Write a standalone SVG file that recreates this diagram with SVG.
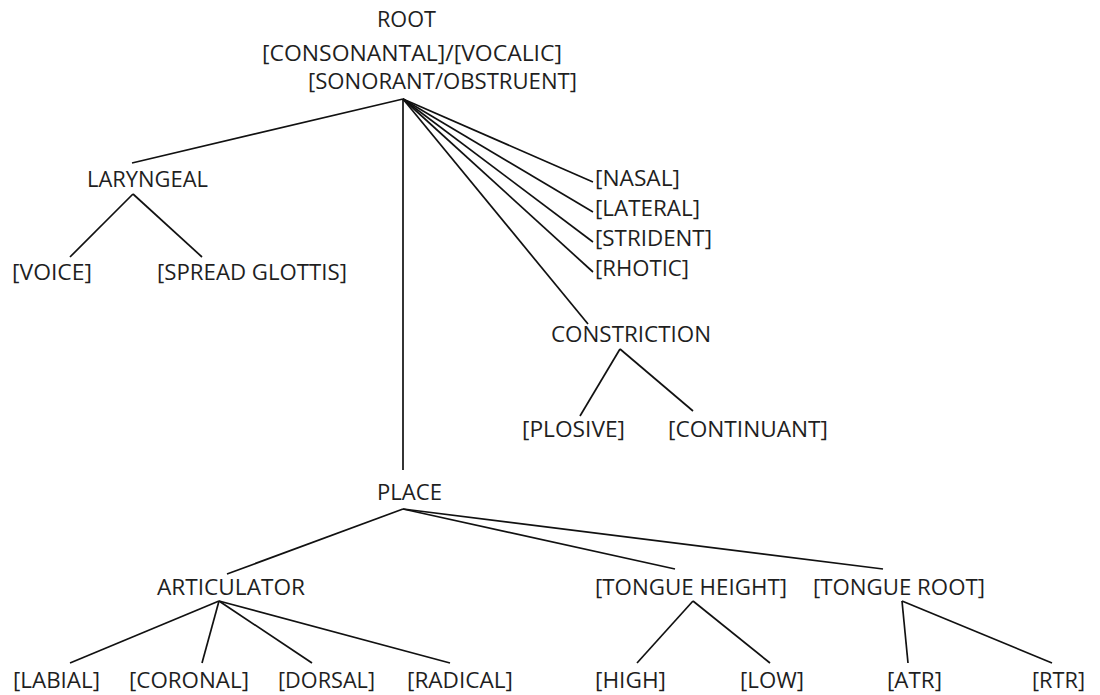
<svg xmlns="http://www.w3.org/2000/svg" width="1100" height="695" viewBox="0 0 1100 695">
<style>
text{font-family:"Open Sans","Liberation Sans",sans-serif;font-size:21px;fill:#1f1f1f;}
.e line{stroke:#111111;stroke-width:1.7;fill:none;}
</style>
<rect width="1100" height="695" fill="#ffffff"/>
<g class="e" id="connectors">
<line x1="403" y1="99" x2="132" y2="163"/>
<line x1="403" y1="99" x2="403" y2="470"/>
<line x1="403" y1="99" x2="593" y2="182"/>
<line x1="403" y1="99" x2="593" y2="212"/>
<line x1="403" y1="99" x2="593" y2="242"/>
<line x1="403" y1="99" x2="593" y2="272"/>
<line x1="403" y1="99" x2="588" y2="324"/>
<line x1="133" y1="194" x2="70" y2="257"/>
<line x1="133" y1="194" x2="202" y2="257"/>
<line x1="620" y1="349" x2="580" y2="416"/>
<line x1="620" y1="349" x2="693" y2="411"/>
<line x1="403" y1="509" x2="227" y2="574"/>
<line x1="403" y1="509" x2="675" y2="569"/>
<line x1="403" y1="509" x2="883" y2="569"/>
<line x1="219" y1="601" x2="70" y2="663"/>
<line x1="219" y1="601" x2="202" y2="663"/>
<line x1="219" y1="601" x2="312" y2="663"/>
<line x1="219" y1="601" x2="450" y2="663"/>
<line x1="693" y1="601" x2="637" y2="663"/>
<line x1="693" y1="601" x2="770" y2="663"/>
<line x1="902" y1="601" x2="908" y2="663"/>
<line x1="902" y1="601" x2="1052" y2="663"/>
</g>
<g id="root"><text x="377" y="27" textLength="59" lengthAdjust="spacingAndGlyphs">ROOT</text>
<text x="262" y="61" textLength="300" lengthAdjust="spacingAndGlyphs">[CONSONANTAL]/[VOCALIC]</text>
<text x="308" y="89" textLength="269" lengthAdjust="spacingAndGlyphs">[SONORANT/OBSTRUENT]</text></g>
<g id="laryngeal"><text x="87" y="187" textLength="121" lengthAdjust="spacingAndGlyphs">LARYNGEAL</text></g>
<g id="voice"><text x="12" y="280" textLength="80" lengthAdjust="spacingAndGlyphs">[VOICE]</text></g>
<g id="spread"><text x="157" y="280" textLength="190" lengthAdjust="spacingAndGlyphs">[SPREAD GLOTTIS]</text></g>
<g id="nasal"><text x="595" y="186" textLength="85" lengthAdjust="spacingAndGlyphs">[NASAL]</text></g>
<g id="lateral"><text x="595" y="216" textLength="105" lengthAdjust="spacingAndGlyphs">[LATERAL]</text></g>
<g id="strident"><text x="595" y="246" textLength="117" lengthAdjust="spacingAndGlyphs">[STRIDENT]</text></g>
<g id="rhotic"><text x="595" y="276" textLength="94" lengthAdjust="spacingAndGlyphs">[RHOTIC]</text></g>
<g id="constriction"><text x="551" y="342" textLength="160" lengthAdjust="spacingAndGlyphs">CONSTRICTION</text></g>
<g id="plosive"><text x="522" y="437" textLength="103" lengthAdjust="spacingAndGlyphs">[PLOSIVE]</text></g>
<g id="continuant"><text x="668" y="437" textLength="160" lengthAdjust="spacingAndGlyphs">[CONTINUANT]</text></g>
<g id="place"><text x="377" y="500" textLength="65" lengthAdjust="spacingAndGlyphs">PLACE</text></g>
<g id="articulator"><text x="157" y="595" textLength="148" lengthAdjust="spacingAndGlyphs">ARTICULATOR</text></g>
<g id="tongueheight"><text x="595" y="595" textLength="192" lengthAdjust="spacingAndGlyphs">[TONGUE HEIGHT]</text></g>
<g id="tongueroot"><text x="813" y="595" textLength="172" lengthAdjust="spacingAndGlyphs">[TONGUE ROOT]</text></g>
<g id="labial"><text x="13" y="688" textLength="87" lengthAdjust="spacingAndGlyphs">[LABIAL]</text></g>
<g id="coronal"><text x="129" y="688" textLength="120" lengthAdjust="spacingAndGlyphs">[CORONAL]</text></g>
<g id="dorsal"><text x="278" y="688" textLength="97" lengthAdjust="spacingAndGlyphs">[DORSAL]</text></g>
<g id="radical"><text x="407" y="688" textLength="106" lengthAdjust="spacingAndGlyphs">[RADICAL]</text></g>
<g id="high"><text x="595" y="688" textLength="71" lengthAdjust="spacingAndGlyphs">[HIGH]</text></g>
<g id="low"><text x="740" y="688" textLength="64" lengthAdjust="spacingAndGlyphs">[LOW]</text></g>
<g id="atr"><text x="887" y="688" textLength="55" lengthAdjust="spacingAndGlyphs">[ATR]</text></g>
<g id="rtr"><text x="1032" y="688" textLength="53" lengthAdjust="spacingAndGlyphs">[RTR]</text></g>
</svg>
